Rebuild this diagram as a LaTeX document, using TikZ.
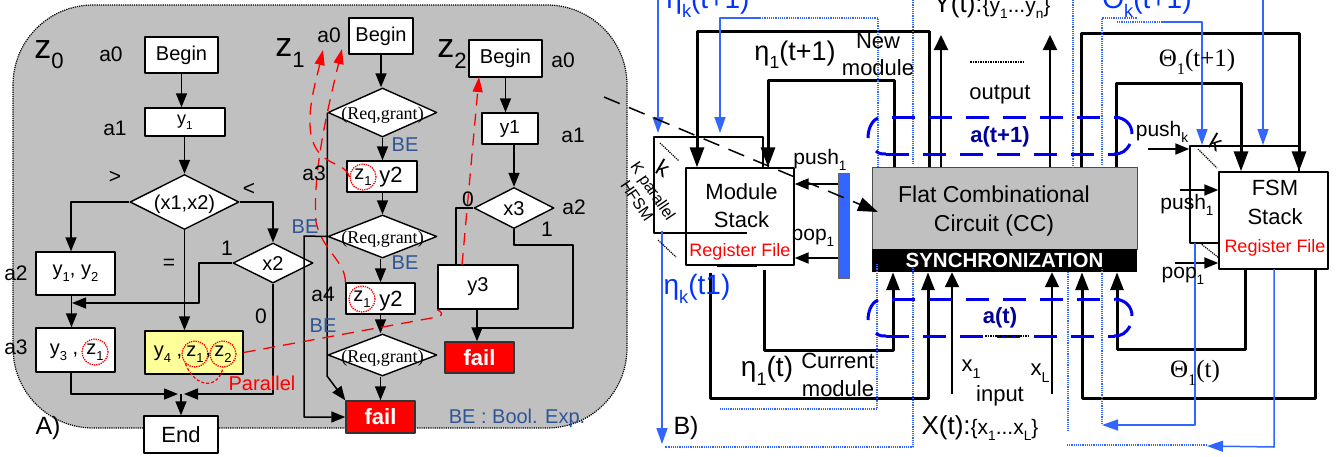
\documentclass[tikz,border=0pt]{standalone}
\usepackage{fontspec}
\setmainfont{Liberation Sans}
\newfontfamily\serifface{Liberation Serif}
\usetikzlibrary{arrows.meta,shapes.geometric}
\definecolor{panelgray}{HTML}{C0C0C0}
\definecolor{notecolor}{HTML}{2F5597}
\definecolor{wireblue}{HTML}{3366FF}
\definecolor{textblue}{HTML}{0033FF}
\definecolor{loopblue}{HTML}{0000EE}
\definecolor{darkblue}{HTML}{000099}
\definecolor{hilite}{HTML}{FFFF99}
\newcommand{\fs}[1]{\fontsize{#1}{#1}\selectfont}
\newcommand{\subtxt}[1]{\raisebox{-.3em}{\scalebox{.65}{#1}}}
\newcommand{\dtext}[1]{\smash{\makebox[0pt]{\raisebox{-.35em}{#1}}}}
\tikzset{
	lab/.style={inner sep=0pt,font=\fs{#1}},
	lab/.default=21,
	flowbox/.style={draw,fill=white,line width=1.4pt,inner sep=0pt,font=\fs{20}},
	decide/.style={diamond,draw,fill=white,line width=1.4pt,inner sep=0pt,font=\fs{20}},
	failbox/.style={draw=black!80,fill=red,line width=1.4pt,inner sep=0pt,text=white,font=\fs{22}\bfseries},
	zcirc/.style={circle,draw=red,densely dotted,line width=1.3pt,minimum size=26pt,inner sep=0pt,font=\fs{20}},
	flow/.style={line width=1.5pt},
	heavy/.style={line width=3pt},
	bigtip/.style={-{Triangle[length=20pt,width=14pt]}},
	lowtip/.style={-{Triangle[length=18pt,width=13pt]}},
	midtip/.style={-{Triangle[length=15pt,width=14pt]}},
	redtip/.style={-{Triangle[length=15pt,width=10pt,fill=red]}},
	reddash/.style={draw=red,line width=1.3pt,dash pattern=on 12pt off 8pt},
	bluewire/.style={draw=wireblue,line width=1.5pt},
	bluetip/.style={-{Triangle[length=16pt,width=11pt]}},
	bluedot/.style={draw=wireblue,line width=1.2pt,densely dotted},
	bluedash/.style={draw=loopblue,line width=3pt,dash pattern=on 23pt off 14pt},
	bluearc/.style={draw=loopblue,line width=3pt},
	belab/.style={inner sep=0pt,text=notecolor,font=\fs{20}},
	stackbox/.style={draw,fill=white,line width=1.4pt,inner sep=0pt},
}
\begin{document}
\begin{tikzpicture}[x=1pt,y=-1pt,>={Triangle[length=14pt,width=11pt]},line join=round]
	\useasboundingbox (0,0) rectangle (1341,456);
	\clip (0,0) rectangle (1341,456);
	% panel A
	\path[draw,densely dotted,line width=1.2pt,fill=panelgray,rounded corners=80pt] (13,5) rectangle (627,428);
	\node[flowbox,minimum width=73pt,minimum height=36pt] (beginA) at (181.5,55) {Begin};
	\node[flowbox,minimum width=80pt,minimum height=28pt,font=\fs{18}] (yoneA) at (185,122) {y\subtxt{1}};
	\node[decide,minimum width=109pt,minimum height=55pt] (dtopA) at (184.5,202) {\dtext{(x1,x2)}};
	\node[decide,minimum width=80pt,minimum height=40pt] (xtwoA) at (273,263) {\dtext{x2}};
	\node[flowbox,minimum width=79pt,minimum height=43pt] (yyA) at (75.5,273.5) {y\subtxt{1}, y\subtxt{2}};
	\node[flowbox,minimum width=79pt,minimum height=44pt] (yzA) at (75.5,350) {};
	\node[flowbox,fill=hilite,minimum width=98pt,minimum height=43pt] (yfourA) at (194,352.5) {};
	\node[flowbox,minimum width=74pt,minimum height=37pt,font=\fs{22}] (endA) at (181,434.5) {End};
	\node[lab=20] (ythreeT) at (64,352) {y\subtxt{3} ,};
	\node[zcirc] (zcircA) at (95,352) {z\subtxt{1}};
	\node[lab=20] (yfourT) at (168,354) {y\subtxt{4} ,};
	\node[zcirc] (zcircB) at (195,354) {z\subtxt{1}};
	\node[zcirc] (zcircC) at (223,354) {z\subtxt{2}};
	\node[lab=20] (commaA) at (208.5,356) {,};
	\path
	(199,303) coordinate (jb)
	(72,303) coordinate (jc)
	(178,394) coordinate (ja)
	(184,394) coordinate (jd)
	;
	\draw[flow,->] (beginA) -- (beginA|-yoneA.north);
	\draw[flow,->] (dtopA|-yoneA.south) -- (dtopA.north);
	\draw[flow,->] (dtopA.west) -| ([xshift=-4.5pt]yyA.north);
	\draw[flow,->] (dtopA.east) -| (xtwoA.north);
	\draw[flow,->] (dtopA.south) -- (dtopA|-yfourA.north);
	\draw[flow,->] (xtwoA.west) -| (jb) -- (jc);
	\draw[flow,->] ([xshift=-4pt]yyA.south) -- ([xshift=-4pt]yzA.north);
	\draw[flow,->] ([xshift=-4.5pt]yzA.south) |- (ja);
	\draw[flow,->] (xtwoA.south) |- (jd);
	\draw[flow,->] (endA.north|-ja) -- (endA.north);
	% z1 column
	\node[flowbox,minimum width=64pt,minimum height=36pt] (beginB) at (381,36) {Begin};
	\node[decide,minimum width=109pt,minimum height=49pt] (reqA) at (382.5,112.5) {\dtext{\serifface\fs{18}(Req,grant)}};
	\node[flowbox,minimum width=70pt,minimum height=31pt] (callA) at (382,176.5) {};
	\node[decide,minimum width=109pt,minimum height=43pt] (reqB) at (382.5,236.5) {\dtext{\serifface\fs{18}(Req,grant)}};
	\node[flowbox,minimum width=69pt,minimum height=31pt] (callB) at (380.5,298.5) {};
	\node[decide,minimum width=109pt,minimum height=42pt] (reqC) at (382.5,355) {\dtext{\serifface\fs{18}(Req,grant)}};
	\node[failbox,minimum width=69pt,minimum height=32pt] (failA) at (380.5,417) {fail};
	\node[zcirc] (zcircD) at (363,177) {z\subtxt{1}};
	\node[zcirc] (zcircE) at (362,299) {z\subtxt{1}};
	\node[lab=22] (ytwoA) at (391,177.5) {y2};
	\node[lab=22] (ytwoB) at (391,301) {y2};
	\draw[flow,->] (beginB) -- (beginB|-reqA.north);
	\draw[flow,->] (reqA.south) -- (reqA|-callA.north);
	\draw[flow,->] (reqA|-callA.south) -- (reqA|-reqB.north);
	\draw[flow,->] (callB|-reqB.south) -- (callB.north);
	\draw[flow,->] (callB.south) -- (callB|-reqC.north);
	\draw[flow,->] (callB|-reqC.south) -- (failA.north);
	\path (327,376) coordinate (kneeA) (304,236) coordinate (kneeB);
	\draw[flow,->] (reqA.west) -- (kneeA) -- (failA.north west);
	\draw[flow,->] (reqB.west) -- (kneeB) |- (failA.west);
	% z2 column
	\node[flowbox,minimum width=73pt,minimum height=37pt] (beginC) at (505.5,58.5) {Begin};
	\node[flowbox,minimum width=56pt,minimum height=31pt,font=\fs{19}] (yoneC) at (510,128.5) {y1};
	\node[decide,minimum width=80pt,minimum height=41pt] (xthreeC) at (514,208) {\dtext{x3}};
	\node[flowbox,minimum width=80pt,minimum height=44pt] (ythreeC) at (478,287) {y3\hspace{10pt}};
	\node[failbox,minimum width=69pt,minimum height=31pt] (failB) at (479.5,357.5) {fail};
	\path (456,208) coordinate (kneeC) (573,245) coordinate (kneeD) (477,328) coordinate (kneeE);
	\draw[flow,->] (beginC) -- (beginC|-yoneC.north);
	\draw[flow,->] (xthreeC|-yoneC.south) -- (xthreeC.north);
	\draw[flow] (xthreeC.west) -- (kneeC) -- (kneeC|-ythreeC.north);
	\draw[flow] (xthreeC.south) |- (kneeD) |- (kneeE);
	\draw[flow,->] (kneeE|-ythreeC.south) -- (kneeE|-failB.north);
	% red calls
	\path
	(437,317) coordinate (rb)
	(462,265) coordinate (rc)
	(479,77) coordinate (rd)
	(323,50) coordinate (re)
	(342,49) coordinate (rf)
	;
	\draw[reddash] (yfourA.east) -- (rb) .. controls (441,316) and (445,314) .. (ythreeC.south west);
	\draw[reddash,redtip] (rc) -- (rd);
	\draw[reddash,redtip] (zcircD.west) .. controls (345,160) and (318,168) .. (311,135) .. controls (307,110) and (315,85) .. (re);
	\draw[reddash,redtip] (callB.north west) .. controls (346,262) and (322,250) .. (316,222) .. controls (312,170) and (330,100) .. (rf);
	\draw[red,line width=1.2pt,densely dashed] (zcircB.south west) .. controls (195,388) and (218,390) .. (zcircC.south);
	% labels of panel A
	\node[lab=34] (zzero) at (49,55) {z\subtxt{0}};
	\node[lab=34] (zone) at (290,53) {z\subtxt{1}};
	\node[lab=34] (ztwo) at (452,54) {z\subtxt{2}};
	\foreach \n/\x/\y/\t in {aa/111/54/a0,ab/115/128/a1,ac/16/273/a2,ad/16/347/a3,ae/329/35/a0,af/314/173/a3,ag/323/294/a4,ah/563/60/a0,ai/573/135/a1,aj/574/207/a2,gt/115/177/>,lt/249/189/<,eq/169/264/=,oa/227/248/1,za/261/316/0,zb/468/199/0,ob/547/229/1}
	\node[lab] (lbl\n) at (\x,\y) {\t};
	\node[lab=20,text=red] (parallel) at (262,383) {Parallel};
	\foreach \n/\x/\y in {a/405/145,b/405/263,c/305/227,d/323/326}
	\node[belab] (be\n) at (\x,\y) {BE};
	\node[belab] (benote) at (517,418) {BE : Bool. Exp.};
	\node[lab=25] (panelA) at (48,428) {A)};
	% panel B, stacks
	\node[stackbox,minimum width=109pt,minimum height=96pt] (kboxA) at (708.5,185) {};
	\node[stackbox,minimum width=108pt,minimum height=97pt] (modstack) at (740,216.5) {};
	\node[lab=22,align=center] (modtext) at (741.5,206) {Module\\[6pt]Stack};
	\node[lab=18,text=red] (regA) at (740,252) {Register File};
	\node[stackbox,minimum width=109pt,minimum height=97pt] (kboxB) at (1244.5,194.5) {};
	\node[stackbox,minimum width=109pt,minimum height=97pt] (fsmstack) at (1273.5,220.5) {};
	\node[lab=22,align=center] (fsmtext) at (1275,202) {FSM\\[7pt]Stack};
	\node[lab=18,text=red] (regB) at (1275,248) {Register File};
	\node[draw=black!70,fill=panelgray,line width=1pt,inner sep=0pt,minimum width=265pt,minimum height=82pt] (ccbox) at (1004.5,208) {};
	\node[lab=23,align=center] (cctext) at (994,211.5) {Flat Combinational\\[6pt]Circuit (CC)};
	\node[fill=black,inner sep=0pt,minimum width=265pt,minimum height=23pt,text=white,font=\fs{20.5}\bfseries] (sync) at (1004.5,260.5) {SYNCHRONIZATION};
	\node[draw=black!60,fill=wireblue,inner sep=0pt,minimum width=11pt,minimum height=105pt] (popbar) at (843.5,225.5) {};
	\path
	(697,31) coordinate (na)
	(929,31) coordinate (nb)
	(768,80) coordinate (nc)
	(894,80) coordinate (nd)
	(941,35) coordinate (oa)
	(1050,35) coordinate (ob)
	(1081,33) coordinate (ta)
	(1299,33) coordinate (tb)
	(1116,83) coordinate (tc)
	(1241,83) coordinate (td)
	(764,350) coordinate (ca)
	(893,350) coordinate (cb)
	(710,398) coordinate (cc)
	(928,398) coordinate (cd)
	(1245,349) coordinate (sa)
	(1117,349) coordinate (sb)
	(1315,398) coordinate (sc)
	(1082,398) coordinate (sd)
	(952,394) coordinate (xa)
	(1052,394) coordinate (xb)
	;
	% state loops
	\draw[heavy,bigtip] (nb|-ccbox.north) -- (nb) -- (na) -- (na|-modstack.north);
	\draw[heavy,bigtip] (nd|-ccbox.north) -- (nd) -- (nc) -- (nc|-modstack.north);
	\draw[heavy,bigtip] (ta|-ccbox.north) -- (ta) -- (tb) -- (tb|-fsmstack.north);
	\draw[heavy,bigtip] (tc|-ccbox.north) -- (tc) -- (td) -- (td|-fsmstack.north);
	\draw[line width=2pt,midtip] (oa|-ccbox.north) -- (oa);
	\draw[line width=2pt,midtip] (ob|-ccbox.north) -- (ob);
	\draw[heavy,lowtip] (764,270) -- (ca) -- (cb) -- (cb|-sync.south);
	\draw[heavy,lowtip] (710,273) -- (cc) -- (cd) -- (cd|-sync.south);
	\draw[heavy,lowtip] (sa|-fsmstack.south) -- (sa) -- (sb) -- (sb|-sync.south);
	\draw[heavy,lowtip] (sc|-fsmstack.south) -- (sc) -- (sd) -- (sd|-sync.south);
	\draw[line width=2pt,midtip] (xa) -- (xa|-sync.south);
	\draw[line width=2pt,midtip] (xb) -- (xb|-sync.south);
	% push and pop
	\draw[line width=2pt,->] (popbar.west|-0,184) -- (modstack.east|-0,184);
	\draw[line width=2pt,->] (popbar.west|-0,258) -- (modstack.east|-0,258);
	\draw[line width=2pt,->] (1148,149) -- (kboxB.west|-0,149);
	\draw[line width=2pt,->] (1180,190) -- (fsmstack.west|-0,190);
	\draw[line width=2pt,->] (1175,263) -- (fsmstack.west|-0,263);
	% blue wires
	\draw[bluewire,bluetip] (658,0) -- (658,133);
	\draw[bluewire,bluetip] (760,18) -- (720,18) -- (720,133);
	\draw[bluedot] (760,18) -- (878,18) -- (878,168) (877,264) -- (877,409) -- (720,409);
	\draw[bluedot] (913,0) -- (913,165) (913,268) -- (913,447) -- (665,447);
	\draw[bluedot] (1073,0) -- (1073,168);
	\draw[bluedot] (1102,165) -- (1102,18) -- (1137,18) (1117,22) -- (1162,22);
	\draw[bluewire,bluetip] (1162,22) -- (1202,22) -- (1202,145);
	\draw[bluewire,bluetip] (1263,0) -- (1263,145);
	\draw[bluewire,bluetip] (662,231) -- (662,444);
	\draw[bluewire,bluetip] (1195,243) -- (1195,425) -- (1102,425);
	\draw[bluedot] (1102,269) -- (1102,425);
	\draw[bluedot] (1068,272) -- (1068,431);
	\draw[bluewire,bluetip] (1274,269) -- (1274,447) -- (1207,446);
	\draw[bluedot] (1067,445) -- (1207,445);
	% loops of a(t) and a(t+1)
	\foreach \ya/\yb in {117/154,299/336}{
		\draw[bluedash] (892,\ya) -- (1115,\ya);
		\draw[bluedash] (886,\yb) -- (1115,\yb);
		\draw[bluearc] (878,\ya+1) .. controls (871,\ya+4) and (868,\ya+13) .. (868,\ya+21);
		\draw[bluearc] (876,\yb-3) .. controls (879,\yb) and (882,\yb) .. (886,\yb);
		\draw[bluearc] (1115,\ya) .. controls (1126,\ya+1) and (1132,\ya+8) .. (1132,\ya+17);
		\draw[bluearc] (1130,\yb-10) .. controls (1126,\yb-3) and (1122,\yb) .. (1114,\yb);
	}
	% dotted marks
	\path[draw,densely dotted,line width=1.2pt] (660,143) -- (679,161) (658,240) -- (676,257);
	\path[draw,densely dotted,line width=1.2pt] (1198,149) -- (1217,168) (1200,243) -- (1219,258);
	\path[draw,densely dotted,line width=1.5pt] (970,62) -- (1023,62);
	\path[draw,densely dotted,line width=1.5pt] (985,336) -- (1030,336);
	% inner lines of the module stack
	\draw[line width=1.4pt] (modstack.west|-0,233) -- (747,233);
	\draw[line width=3pt] (717,265) -- (757,265);
	% long dashed call
	\draw[line width=1.5pt,dash pattern=on 17pt off 10pt,bigtip] (604,97) -- (878,212);
	% labels of panel B
	\node[lab=28,text=textblue] (etaktop) at (708,3) {η\subtxt{k}(t+1)};
	\node[lab=28,text=textblue] (thetaktop) at (1147,3) {Θ\subtxt{k}(t+1)};
	\node[lab=28,text=textblue] (etakbot) at (697,289) {η\subtxt{k}(t1)};
	\node[lab=27] (etanew) at (795,55) {η\subtxt{1}(t+1)};
	\node[lab=28] (etacur) at (767,371) {η\subtxt{1}(t)};
	\node[lab=25,font=\serifface\fs{25}] (thetanew) at (1197,62) {Θ\subtxt{1}(t+1)};
	\node[lab=25,font=\serifface\fs{25}] (thetacur) at (1195,373) {Θ\subtxt{1}(t)};
	\node[lab=22,align=center] (newmod) at (878,54.5) {New\\[5pt]module};
	\node[lab=22,align=center] (curmod) at (838,375) {Current\\[6pt]module};
	\node[lab=22] (outlab) at (1000,95) {output};
	\node[lab=22] (inlab) at (1000,396) {input};
	\node[lab=22] (xone) at (971,369) {x\subtxt{1}};
	\node[lab=22] (xell) at (1040,373) {x\subtxt{L}};
	\node[lab=22,text=darkblue,font=\fs{22}\bfseries] (atnext) at (1000,137) {a(t+1)};
	\node[lab=22,text=darkblue,font=\fs{22}\bfseries] (atcur) at (1000,318) {a(t)};
	\node[lab=26] (yset) at (992,6) {Y(t):\fs{21}\{y\subtxt{1}...y\subtxt{n}\}};
	\node[lab=26] (xset) at (980,428) {X(t):\fs{21}\{x\subtxt{1}...x\subtxt{L}\}};
	\node[lab=21] (pusha) at (820,160) {push\subtxt{1}};
	\node[lab=21] (popa) at (813,238) {pop\subtxt{1}};
	\node[lab=21] (pushk) at (1162,132) {push\subtxt{k}};
	\node[lab=21] (pushb) at (1187,205) {push\subtxt{1}};
	\node[lab=21] (popb) at (1183,276) {pop\subtxt{1}};
	\node[lab=23,rotate=-30] (ka) at (663,168) {k};
	\node[lab=23,rotate=-30] (kb) at (1216,142) {k};
	\node[lab=16,rotate=-56] (kpar) at (652,192) {K parallel};
	\node[lab=16,rotate=-56] (hfsm) at (637,201) {HFSM};
	\node[lab=25] (panelB) at (686,428) {B)};
\end{tikzpicture}
\end{document}
